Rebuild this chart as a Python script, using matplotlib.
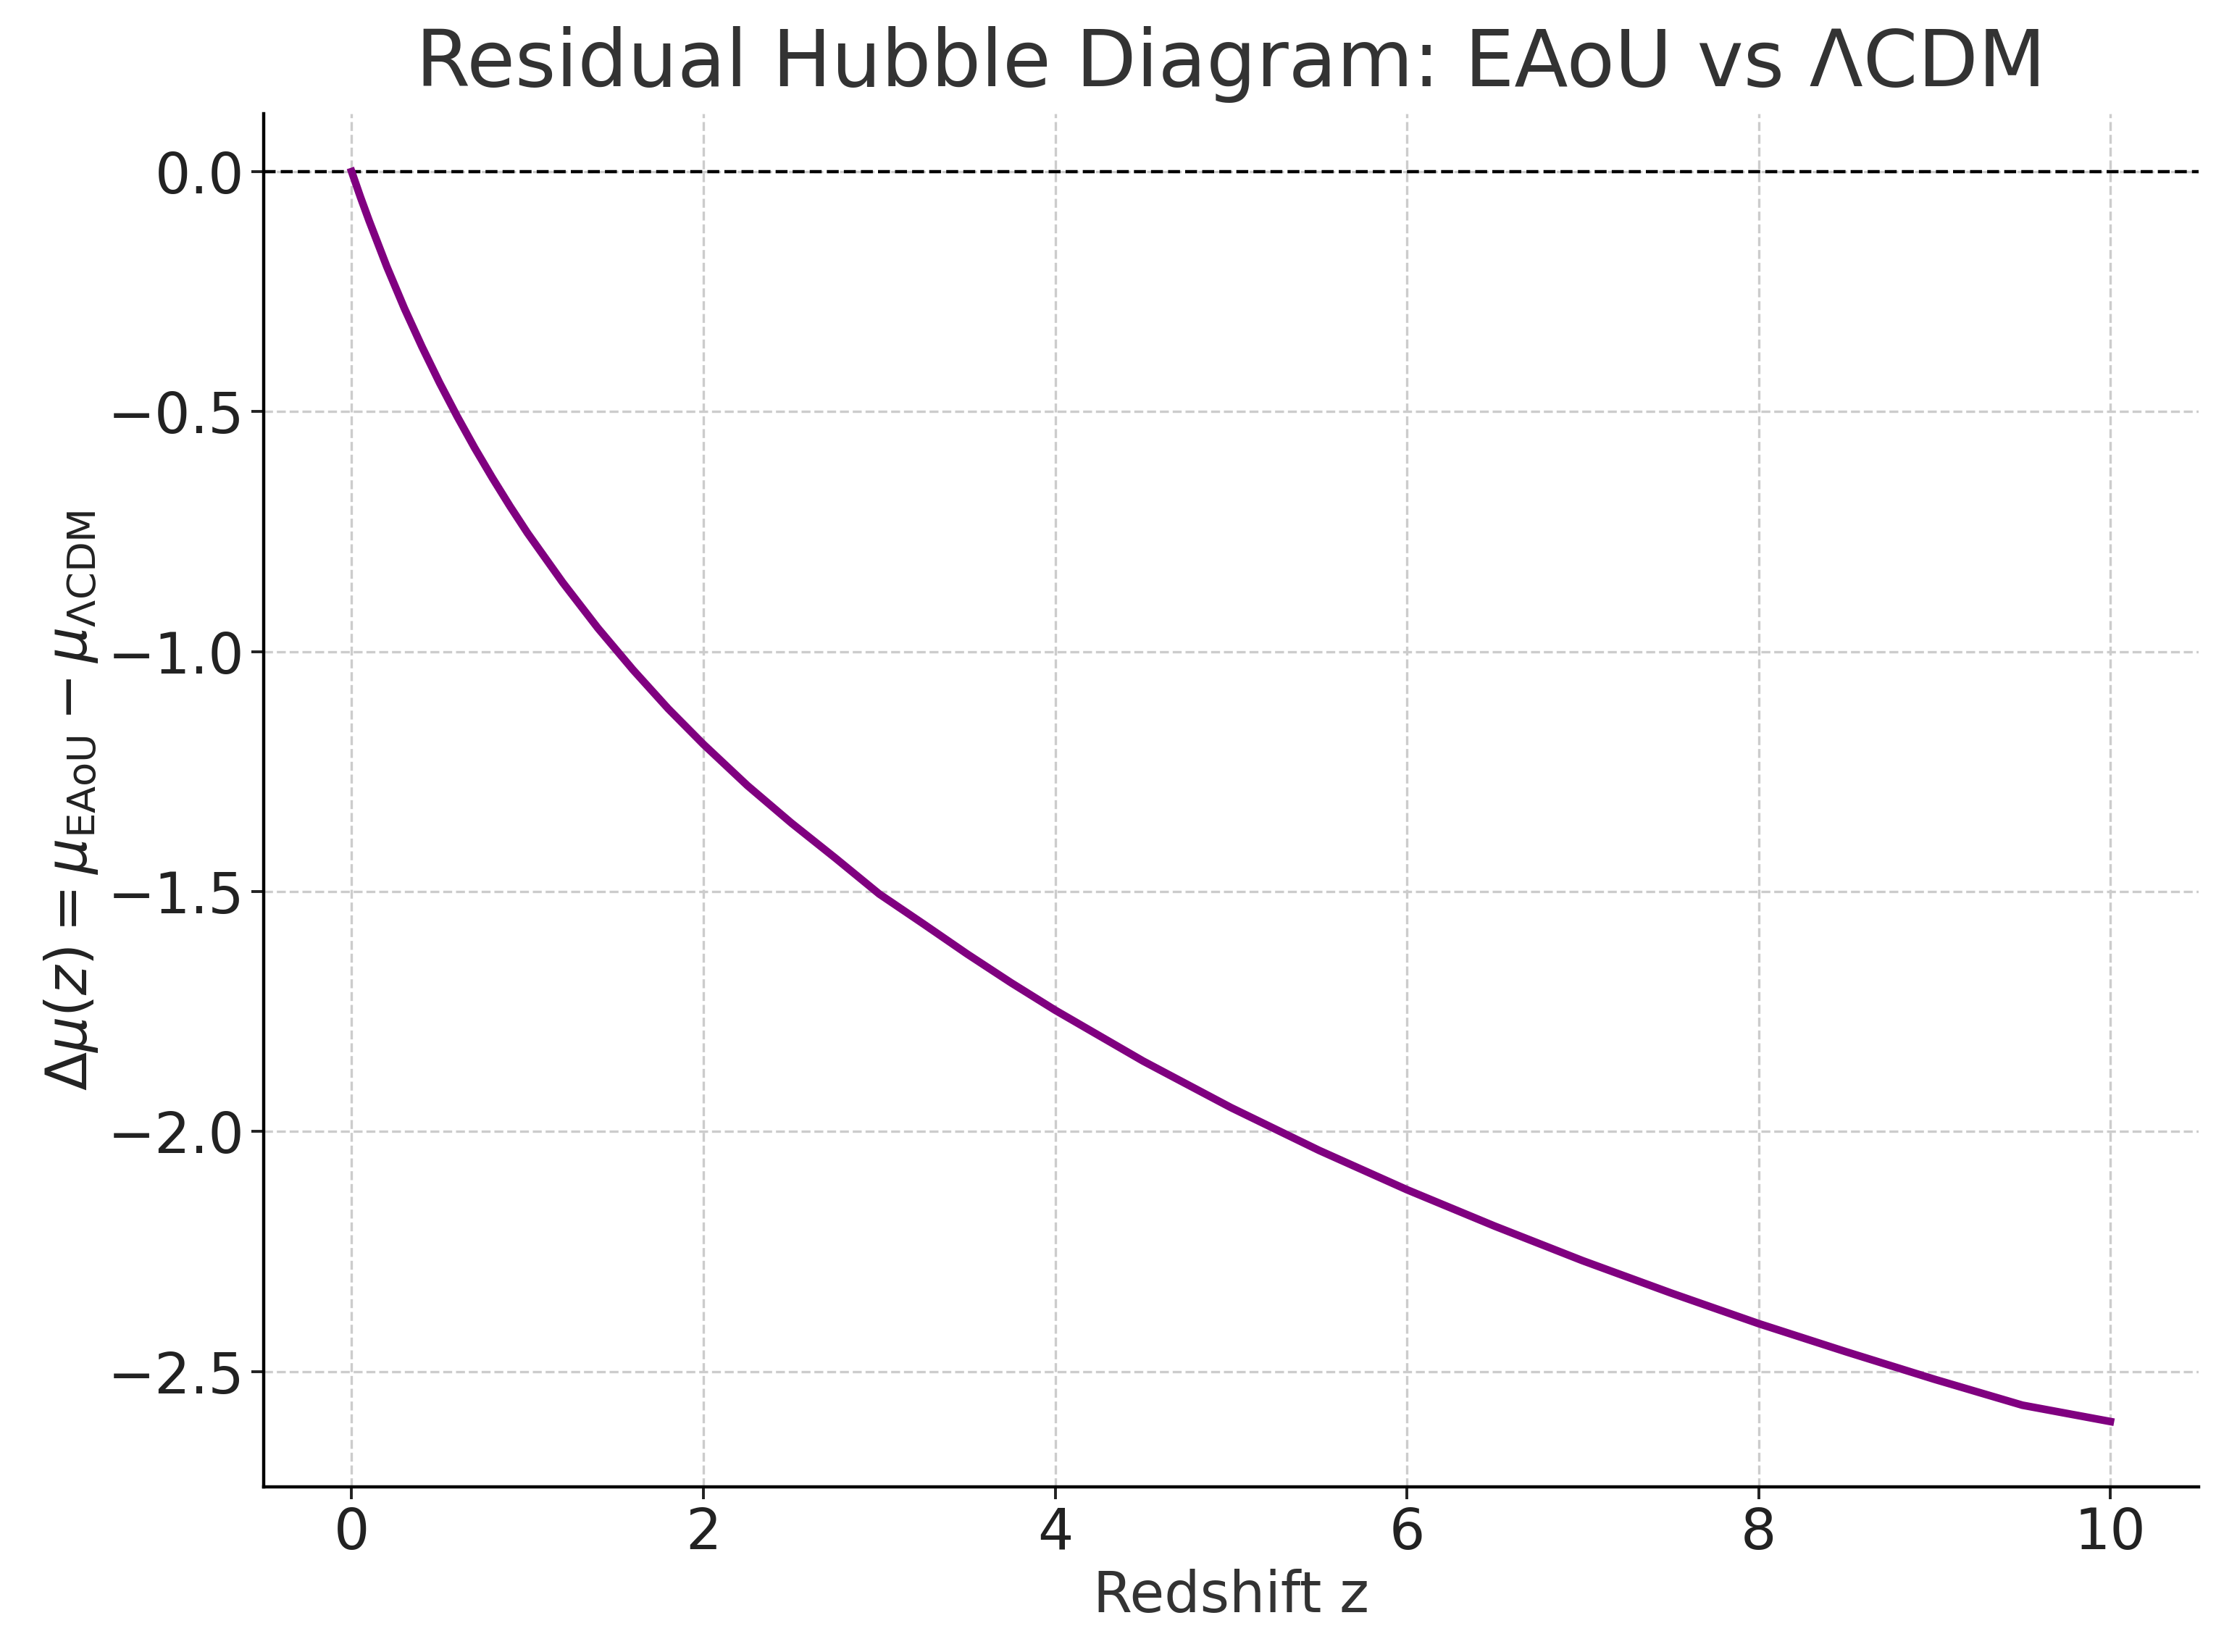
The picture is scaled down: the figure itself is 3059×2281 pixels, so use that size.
import matplotlib
matplotlib.use("Agg")
import matplotlib.pyplot as plt

z = [0, 0.05, 0.1, 0.2, 0.3, 0.4, 0.5, 0.6, 0.7, 0.8, 0.9, 1.0, 1.2, 1.4, 1.6, 1.8, 2.0, 2.25, 2.5, 2.75,
     3.0, 3.25, 3.5, 3.75, 4.0, 4.5, 5.0, 5.5, 6.0, 6.5, 7.0, 7.5, 8.0, 8.5, 9.0, 9.5, 10.0]
dmu = [0, -0.053, -0.103, -0.198, -0.285, -0.365, -0.440, -0.510, -0.576, -0.638, -0.697, -0.753,
       -0.856, -0.951, -1.038, -1.119, -1.193, -1.279, -1.357, -1.430, -1.505, -1.567, -1.630, -1.690,
       -1.747, -1.853, -1.950, -2.039, -2.121, -2.197, -2.269, -2.336, -2.400, -2.459, -2.516, -2.570, -2.604]
xticks = [0, 2, 4, 6, 8, 10]
yticks = [0.0, -0.5, -1.0, -1.5, -2.0, -2.5]

plt.rcParams['font.family'] = ['DejaVu Sans']
fig = plt.figure(figsize=(15.295, 11.405), dpi=200)
ax = fig.add_axes([0.119, 0.10, 0.873, 0.831])
ax.plot(z, dmu, color='purple', lw=3.8, zorder=3)
ax.axhline(0, color='black', ls='--', lw=1.6, zorder=2)
ax.set_xlim(-0.5, 10.5)
ax.set_ylim(-2.74, 0.12)
ax.set_xticks(xticks)
ax.set_yticks(yticks)
ax.grid(True, ls='--', color='#cccccc', lw=1.2)
for s in ['top', 'right']:
    ax.spines[s].set_visible(False)
for s in ['left', 'bottom']:
    ax.spines[s].set_linewidth(1.6)
ax.tick_params(labelsize=28, width=1.4, length=6, colors='#222222')
ax.set_title('Residual Hubble Diagram: EAoU vs ΛCDM', fontsize=39, color='#333333', pad=14)
ax.set_xlabel('Redshift z', fontsize=28, color='#333333')
ax.set_ylabel(r'$\Delta\mu(z) = \mu_{\mathrm{EAoU}} - \mu_{\Lambda\mathrm{CDM}}$', fontsize=28, color='#222222')
fig.savefig('out.png', dpi=200)
